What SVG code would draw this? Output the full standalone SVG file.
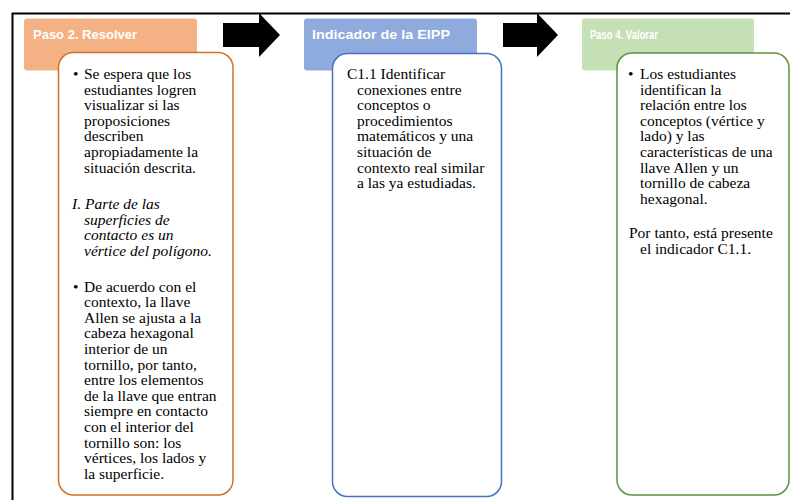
<svg xmlns="http://www.w3.org/2000/svg" width="790" height="500" viewBox="0 0 790 500">
<style>
.hdr{font-family:"Liberation Sans","Noto Sans",sans-serif;font-size:13px;fill:#ffffff;font-weight:bold}
.body{font-family:"Liberation Serif","Times New Roman",serif;font-size:15.5px;fill:#000000}
.it{font-style:italic}
.box{fill:#ffffff;stroke-width:1.5}
</style>
<rect x="0" y="0" width="790" height="500" fill="#ffffff"/>
<g id="frame">
<path d="M12.5 500 V13.5 H790" fill="none" stroke="#000" stroke-width="2"/>
</g>
<g id="connectors">
<path d="M223 23 H259 V13 L280 35 L259 57 V47 H223 Z" fill="#000"/>
<path d="M503 23 H537 V13 L558 35 L537 57 V47 H503 Z" fill="#000"/>
</g>
<g id="step2">
<rect x="24" y="18.5" width="173" height="52" rx="3" fill="#F4B183"/>
<text class="hdr" x="33" y="39" textLength="104" lengthAdjust="spacingAndGlyphs">Paso 2. Resolver</text>
<rect class="box" x="58.5" y="52.5" width="174.5" height="442.5" rx="15" stroke="#D0712E"/>
<text class="body" x="73" y="79">•</text>
<text class="body" x="84" y="79">Se espera que los</text>
<text class="body" x="84" y="94.6">estudiantes logren</text>
<text class="body" x="84" y="110.2">visualizar si las</text>
<text class="body" x="84" y="125.8">proposiciones</text>
<text class="body" x="84" y="141.4">describen</text>
<text class="body" x="84" y="157">apropiadamente la</text>
<text class="body" x="84" y="172.6">situación descrita.</text>
<text class="body it" x="72" y="209">I. Parte de las</text>
<text class="body it" x="84" y="224.6">superficies de</text>
<text class="body it" x="84" y="240.2">contacto es un</text>
<text class="body it" x="84" y="255.8">vértice del polígono.</text>
<text class="body" x="73" y="291.5">•</text>
<text class="body" x="84" y="291.5">De acuerdo con el</text>
<text class="body" x="84" y="307.1">contexto, la llave</text>
<text class="body" x="84" y="322.7">Allen se ajusta a la</text>
<text class="body" x="84" y="338.3">cabeza hexagonal</text>
<text class="body" x="84" y="353.9">interior de un</text>
<text class="body" x="84" y="369.5">tornillo, por tanto,</text>
<text class="body" x="84" y="385.1">entre los elementos</text>
<text class="body" x="84" y="400.7">de la llave que entran</text>
<text class="body" x="84" y="416.3">siempre en contacto</text>
<text class="body" x="84" y="431.9">con el interior del</text>
<text class="body" x="84" y="447.5">tornillo son: los</text>
<text class="body" x="84" y="463.1">vértices, los lados y</text>
<text class="body" x="84" y="478.7">la superficie.</text>
</g>
<g id="indicador">
<rect x="304" y="18.5" width="173" height="52" rx="3" fill="#8FAADC"/>
<text class="hdr" x="312" y="39" textLength="138" lengthAdjust="spacingAndGlyphs">Indicador de la EIPP</text>
<rect class="box" x="332.5" y="53.5" width="169" height="443" rx="15" stroke="#4472C4"/>
<text class="body" x="347" y="79">C1.1 Identificar</text>
<text class="body" x="357" y="94.6">conexiones entre</text>
<text class="body" x="357" y="110.2">conceptos o</text>
<text class="body" x="357" y="125.8">procedimientos</text>
<text class="body" x="357" y="141.4">matemáticos y una</text>
<text class="body" x="357" y="157">situación de</text>
<text class="body" x="357" y="172.6">contexto real similar</text>
<text class="body" x="357" y="188.2">a las ya estudiadas.</text>
</g>
<g id="step4">
<rect x="582" y="18.5" width="172" height="52" rx="3" fill="#C5E0B4"/>
<text class="hdr" x="590" y="39" textLength="68" lengthAdjust="spacingAndGlyphs">Paso 4. Valorar</text>
<rect class="box" x="617" y="53" width="172" height="442" rx="15" stroke="#5E923E"/>
<text class="body" x="628" y="79">•</text>
<text class="body" x="640" y="79">Los estudiantes</text>
<text class="body" x="640" y="94.6">identifican la</text>
<text class="body" x="640" y="110.2">relación entre los</text>
<text class="body" x="640" y="125.8">conceptos (vértice y</text>
<text class="body" x="640" y="141.4">lado) y las</text>
<text class="body" x="640" y="157">características de una</text>
<text class="body" x="640" y="172.6">llave Allen y un</text>
<text class="body" x="640" y="188.2">tornillo de cabeza</text>
<text class="body" x="640" y="203.8">hexagonal.</text>
<text class="body" x="629" y="238">Por tanto, está presente</text>
<text class="body" x="640" y="253.6">el indicador C1.1.</text>
</g>
</svg>
